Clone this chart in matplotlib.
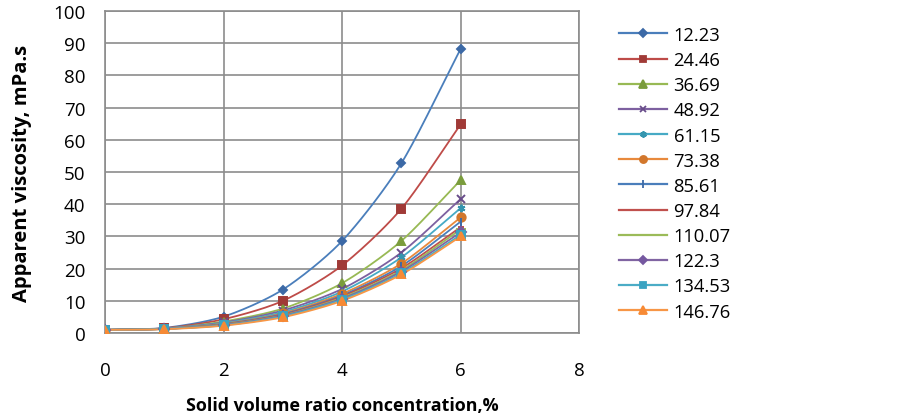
import numpy as np
import matplotlib
matplotlib.use('Agg')
import matplotlib.pyplot as plt

plt.rcParams['font.family'] = ['Open Sans', 'DejaVu Sans']

x = [0, 1, 2, 3, 4, 5, 6]
labels = ['12.23', '24.46', '36.69', '48.92', '61.15', '73.38',
          '85.61', '97.84', '110.07', '122.3', '134.53', '146.76']

v1 = [1.0, 1.6, 5.1, 13.5, 28.6, 52.7, 88.2]
v2 = [1.0, 1.5, 4.3, 10.0, 21.0, 38.6, 64.8]
v3 = [1.0, 1.4, 3.6, 7.6, 15.5, 28.6, 47.5]
v4 = [1.0, 1.4, 3.3, 7.0, 13.7, 25.0, 41.6]
v5 = [1.0, 1.4, 3.1, 6.5, 12.9, 23.5, 38.8]
v6 = [1.0, 1.3, 2.9, 6.1, 12.2, 21.6, 35.9]
v7 = [1.0, 1.3, 2.8, 5.9, 11.7, 20.8, 34.6]
v8 = [1.0, 1.3, 2.7, 5.7, 11.4, 20.1, 32.9]
v9 = [1.0, 1.3, 2.6, 5.5, 11.0, 19.5, 32.2]
v10 = [1.0, 1.3, 2.5, 5.4, 10.7, 19.1, 31.3]
v11 = [1.0, 1.3, 2.4, 5.2, 10.4, 18.6, 30.5]
v12 = [1.0, 1.2, 2.3, 4.9, 10.0, 18.2, 30.0]
series = [v1, v2, v3, v4, v5, v6, v7, v8, v9, v10, v11, v12]

line_colors = ['#4A7EBB', '#BE4B48', '#98B954', '#7D60A0', '#46AAC5', '#E8893C',
               '#4A7EBB', '#C0504D', '#9BBB59', '#8064A2', '#4BACC6', '#F79646']
marker_colors = ['#3C69A6', '#A03A37', '#7A9C3C', '#684C8A', '#3595AE', '#D2772C',
                 '#3C69A6', '#C0504D', '#9BBB59', '#7558A0', '#3AA3C2', '#F78A35']
markers = ['D', 's', '^', 'x', (6, 2, 0), 'o', '|', '_', '_', 'D', 's', '^']
msizes = [4.5, 5.5, 6, 5.5, 5.5, 6, 6, 5, 6.5, 5, 5.5, 6]


def smooth(xs, ys, n=30):
    # catmull-rom style curve like excel's smoothed line
    xs = np.asarray(xs, float)
    ys = np.asarray(ys, float)
    px = np.concatenate([[2 * xs[0] - xs[1]], xs, [2 * xs[-1] - xs[-2]]])
    py = np.concatenate([[2 * ys[0] - ys[1]], ys, [2 * ys[-1] - ys[-2]]])
    ox, oy = [], []
    t = np.linspace(0, 1, n)
    for i in range(1, len(px) - 2):
        for arr, out in ((px, ox), (py, oy)):
            p0, p1, p2, p3 = arr[i - 1], arr[i], arr[i + 1], arr[i + 2]
            m1 = (p2 - p0) / 2 * 0.8
            m2 = (p3 - p1) / 2 * 0.8
            h00 = 2 * t**3 - 3 * t**2 + 1
            h10 = t**3 - 2 * t**2 + t
            h01 = -2 * t**3 + 3 * t**2
            h11 = t**3 - t**2
            out.extend(h00 * p1 + h10 * m1 + h01 * p2 + h11 * m2)
    return ox, oy


fig = plt.figure(figsize=(9.03, 4.14), dpi=100)
ax = fig.add_axes([0.1163, 0.193, 0.525, 0.778])

for i in range(len(series)):
    sx, sy = smooth(x, series[i])
    ax.plot(sx, sy, color=line_colors[i], lw=1.3, zorder=2)
    ax.plot(x, series[i], linestyle='none', marker=markers[i], ms=msizes[i],
            color=marker_colors[i], mec=marker_colors[i], mew=1.4, zorder=3)
    ax.plot([], [], color=line_colors[i], lw=1.6, marker=markers[i], ms=msizes[i] * 0.85,
            mfc=marker_colors[i], mec=marker_colors[i], mew=1.3, label=labels[i])

ax.set_xlim(0, 8)
ax.set_ylim(0, 100)
ax.set_xticks(range(0, 9, 2))
ax.set_yticks(range(0, 101, 10))
ax.grid(True, color='#8C8C8C', lw=1.2)
ax.set_axisbelow(True)
for s in ax.spines.values():
    s.set_color('#8C8C8C')
    s.set_linewidth(1.2)
ax.tick_params(length=0, labelsize=13.5, colors='black')
ax.tick_params(axis='y', pad=14)
ax.tick_params(axis='x', pad=20)
ax.set_xlabel('Solid volume ratio concentration,%', fontsize=12.9, fontweight='bold', labelpad=12)
ax.set_ylabel('Apparent viscosity, mPa.s', fontsize=14.5, fontweight='bold', labelpad=15)

ax.legend(loc='upper left', bbox_to_anchor=(0.686, 0.935), bbox_transform=fig.transFigure,
          frameon=False, fontsize=13.2, labelspacing=0.39, handlelength=2.6,
          handletextpad=0.35, borderaxespad=0, borderpad=0)

fig.savefig('out.png', dpi=100)
